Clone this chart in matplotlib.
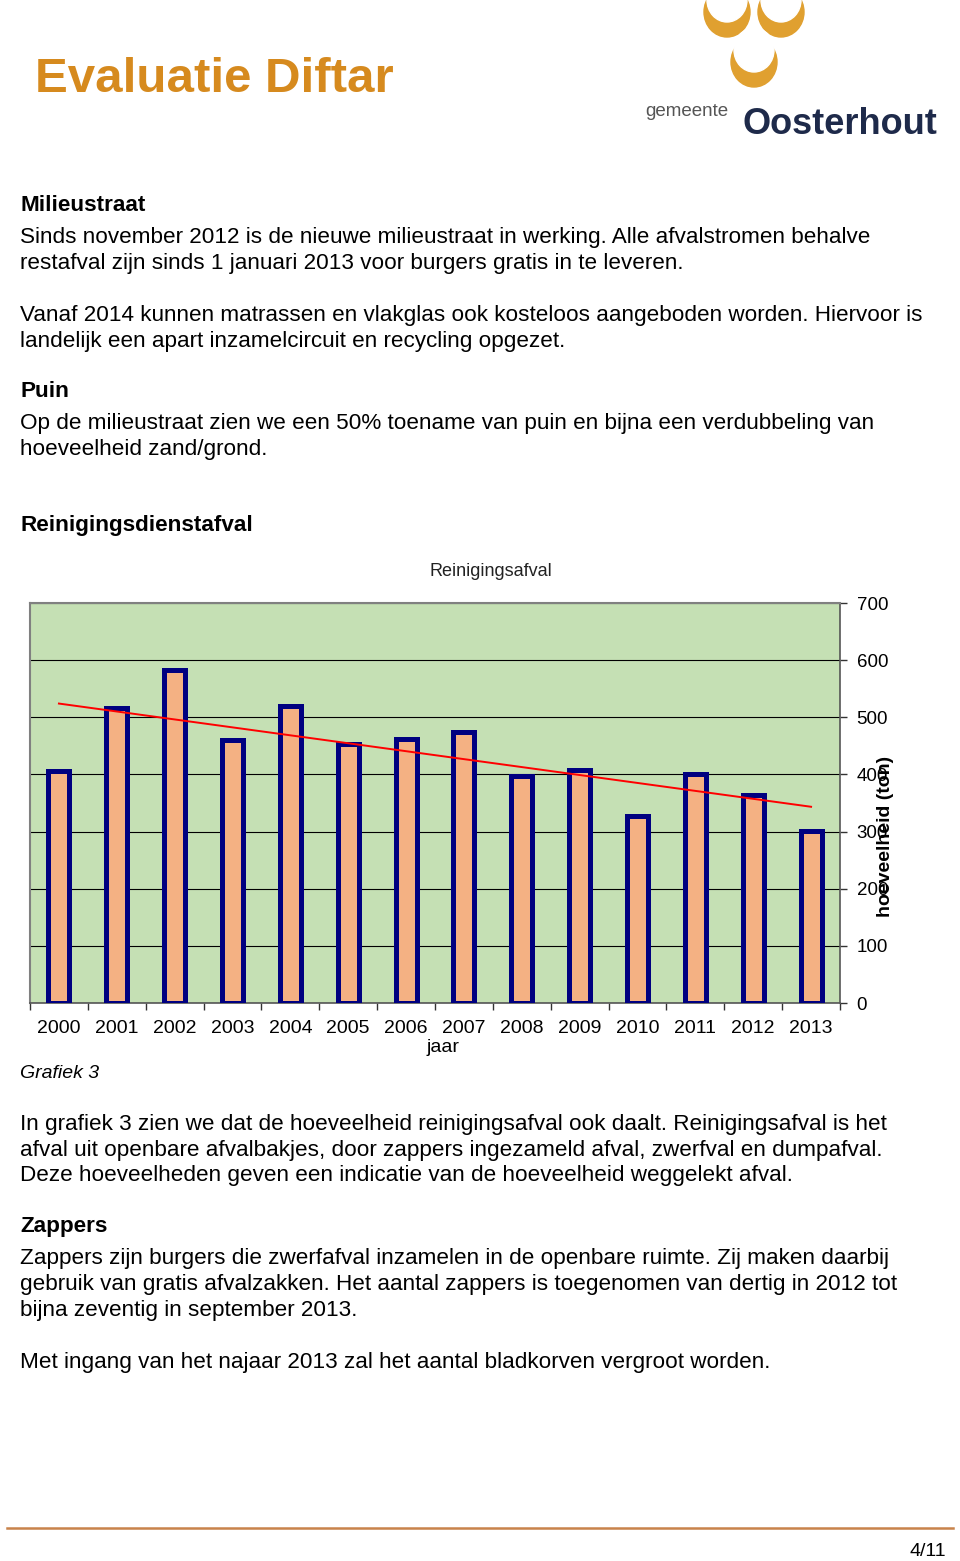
import numpy as np
import matplotlib.pyplot as plt
from matplotlib.patches import Ellipse

plt.rcParams['font.family'] = ['Liberation Sans', 'DejaVu Sans']

# Chart data
years = ['2000', '2001', '2002', '2003', '2004', '2005', '2006',
         '2007', '2008', '2009', '2010', '2011', '2012', '2013']
tons = [406, 516, 583, 460, 520, 453, 462, 474, 397, 408, 327, 401, 364, 301]
y_ticks = [0, 100, 200, 300, 400, 500, 600, 700]

W, H = 960, 1561
fig = plt.figure(figsize=(W / 100, H / 100), dpi=100)


def txt(x, y, s, **kw):
    # place text with pixel coords measured from top-left
    kw.setdefault('fontsize', 16.2)
    kw.setdefault('va', 'baseline')
    return fig.text(x / W, 1 - y / H, s, **kw)


# header
txt(35, 92, 'Evaluatie Diftar', fontsize=35.5, fontweight='bold', color='#D68A1E')

# logo: three crescents + name
logo = fig.add_axes([0, 0, 1, 1], zorder=-1)
logo.set_xlim(0, W)
logo.set_ylim(H, 0)
logo.axis('off')
for cx, cy in [(727, 12), (781, 12), (754, 62)]:
    logo.add_patch(Ellipse((cx, cy), 46, 50, color='#E0A030'))
    logo.add_patch(Ellipse((cx, cy - 12), 40, 44, color='white'))
txt(645, 116, 'gemeente', fontsize=13.5, color='#555555')
txt(743, 134, 'Oosterhout', fontsize=26, fontweight='bold', color='#1E2A4A')

body = [
    (204, 'Milieustraat', True),
    (236, 'Sinds november 2012 is de nieuwe milieustraat in werking. Alle afvalstromen behalve', False),
    (262, 'restafval zijn sinds 1 januari 2013 voor burgers gratis in te leveren.', False),
    (314, 'Vanaf 2014 kunnen matrassen en vlakglas ook kosteloos aangeboden worden. Hiervoor is', False),
    (340, 'landelijk een apart inzamelcircuit en recycling opgezet.', False),
    (390, 'Puin', True),
    (422, 'Op de milieustraat zien we een 50% toename van puin en bijna een verdubbeling van', False),
    (448, 'hoeveelheid zand/grond.', False),
    (524, 'Reinigingsdienstafval', True),
    (1123, 'In grafiek 3 zien we dat de hoeveelheid reinigingsafval ook daalt. Reinigingsafval is het', False),
    (1149, 'afval uit openbare afvalbakjes, door zappers ingezameld afval, zwerfval en dumpafval.', False),
    (1174, 'Deze hoeveelheden geven een indicatie van de hoeveelheid weggelekt afval.', False),
    (1225, 'Zappers', True),
    (1257, 'Zappers zijn burgers die zwerfafval inzamelen in de openbare ruimte. Zij maken daarbij', False),
    (1283, 'gebruik van gratis afvalzakken. Het aantal zappers is toegenomen van dertig in 2012 tot', False),
    (1309, 'bijna zeventig in september 2013.', False),
    (1361, 'Met ingang van het najaar 2013 zal het aantal bladkorven vergroot worden.', False),
]
for y, s, bold in body:
    txt(20, y + 7, s, fontweight='bold' if bold else 'normal', color='black')

# chart
ax = fig.add_axes([30 / W, 1 - 1003 / H, 810 / W, 400 / H])
ax.set_facecolor('#C5E0B4')
x = np.arange(len(years))
ax.bar(x, tons, width=0.365, color='#F4B183', edgecolor='#000080',
       linewidth=3.6, zorder=3)

fit = np.polyfit(x, tons, 1)
ax.plot(x, np.polyval(fit, x), color='#FF0000', linewidth=1.4, zorder=4)

ax.set_xlim(-0.5, len(years) - 0.5)
ax.set_ylim(0, 700)
ax.set_yticks(y_ticks)
ax.yaxis.tick_right()
ax.tick_params(axis='y', length=5, width=1, color='#333333', labelsize=13.5, pad=7)
ax.grid(axis='y', color='black', linewidth=0.8, zorder=1)
ax.set_xticks(x)
ax.set_xticklabels(years)
ax.set_xticks(np.arange(-0.5, len(years)), minor=True)
ax.tick_params(axis='x', which='major', length=0, labelsize=14, pad=12)
ax.tick_params(axis='x', which='minor', length=5, width=1, color='#333333')
for side in ['top', 'left']:
    ax.spines[side].set_color('#808080')
    ax.spines[side].set_linewidth(1.5)
ax.spines['right'].set_color('#555555')
ax.spines['bottom'].set_color('#555555')
ax.spines['right'].set_linewidth(1.2)
ax.spines['bottom'].set_linewidth(1.2)

txt(491, 576, 'Reinigingsafval', fontsize=13, ha='center', color='#222222')
txt(443, 1052, 'jaar', fontsize=14, ha='center')
fig.text(885 / W, 1 - 836 / H, 'hoeveelheid (ton)', fontsize=14, fontweight='bold',
         rotation=90, ha='center', va='center')
txt(20, 1078, 'Grafiek 3', fontsize=14, style='italic')

# footer
logo.plot([7, 953], [1528, 1528], color='#C8834A', linewidth=1.8)
txt(946, 1556, '4/11', fontsize=14, ha='right')

fig.savefig('out.png', dpi=100)
